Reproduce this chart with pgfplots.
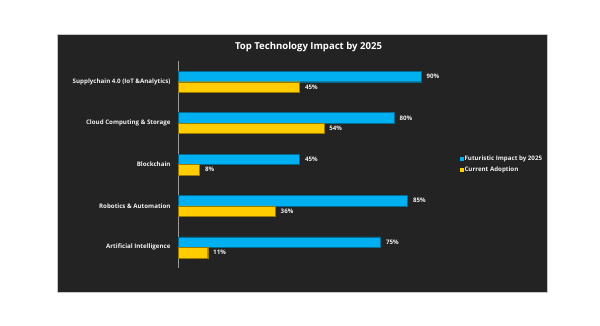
\documentclass[border=0pt]{standalone}
\usepackage{pgfplots}
\pgfplotsset{compat=1.18}
\usepackage{fontspec}
\setmainfont{Open Sans}
\definecolor{bg}{HTML}{232323}
\definecolor{cblue}{HTML}{00B0F0}
\definecolor{cyel}{HTML}{FFCC00}
\definecolor{txt}{HTML}{F2F2F2}
\begin{document}
\begin{tikzpicture}[x=1bp,y=1bp]
\fill[white] (0,0) rectangle (600,325);
\fill[bg] (57,33) rectangle (547,291);
\draw[gray!45, line width=0.8bp] (57,33) rectangle (547,291);
\node[font=\bfseries\fontsize{9.6}{11}\selectfont, text=white] at (308.5,278) {Top Technology Impact by 2025};
\begin{axis}[
  at={(178bp,57bp)}, anchor=south west, scale only axis,
  width=270bp, height=207bp,
  xmin=0, xmax=100, ymin=-0.5, ymax=4.5,
  ytick={0,1,2,3,4},
  yticklabels={Artificial Intelligence, Robotics \& Automation, Blockchain, Cloud Computing \& Storage, Supplychain 4.0 (IoT \&Analytics)},
  xtick=\empty,
  axis x line=none, axis y line=left,
  y axis line style={-, draw=gray!80, line width=0.8bp},
  major tick length=0pt,
  yticklabel style={text=txt, font=\bfseries\fontsize{6.2}{7.5}\selectfont, xshift=-4bp},
  /pgf/number format/assume math mode=true,
  point meta=x,
  nodes near coords={\pgfmathprintnumber{\pgfplotspointmeta}\%},
  nodes near coords style={text=txt, font=\bfseries\fontsize{6.2}{7.5}\selectfont, anchor=west, xshift=2bp},
  legend style={at={(1.045,0.5)}, anchor=west, fill=none, draw=none, text=txt,
    font=\bfseries\fontsize{6.2}{7.5}\selectfont, row sep=3bp, inner sep=0pt,
    nodes={inner sep=1bp}},
  legend cell align=left,
  legend image code/.code={\fill[#1, draw=none] (0bp,-1.6bp) rectangle (3.2bp,1.6bp);},
]
\addplot[xbar, bar width=10.5bp, bar shift=5.25bp, fill=cblue, draw=cblue!60!black, line width=0.4bp,
  every node near coord/.append style={yshift=5.25bp}]
  coordinates {(75,0) (85,1) (45,2) (80,3) (90,4)};
\addlegendentry{Futuristic Impact by 2025}
\addplot[xbar, bar width=10.5bp, bar shift=-5.25bp, fill=cyel, draw=cyel!60!black, line width=0.4bp,
  every node near coord/.append style={yshift=-5.25bp}]
  coordinates {(11,0) (36,1) (8,2) (54,3) (45,4)};
\addlegendentry{Current Adoption}
\end{axis}
\end{tikzpicture}
\end{document}
